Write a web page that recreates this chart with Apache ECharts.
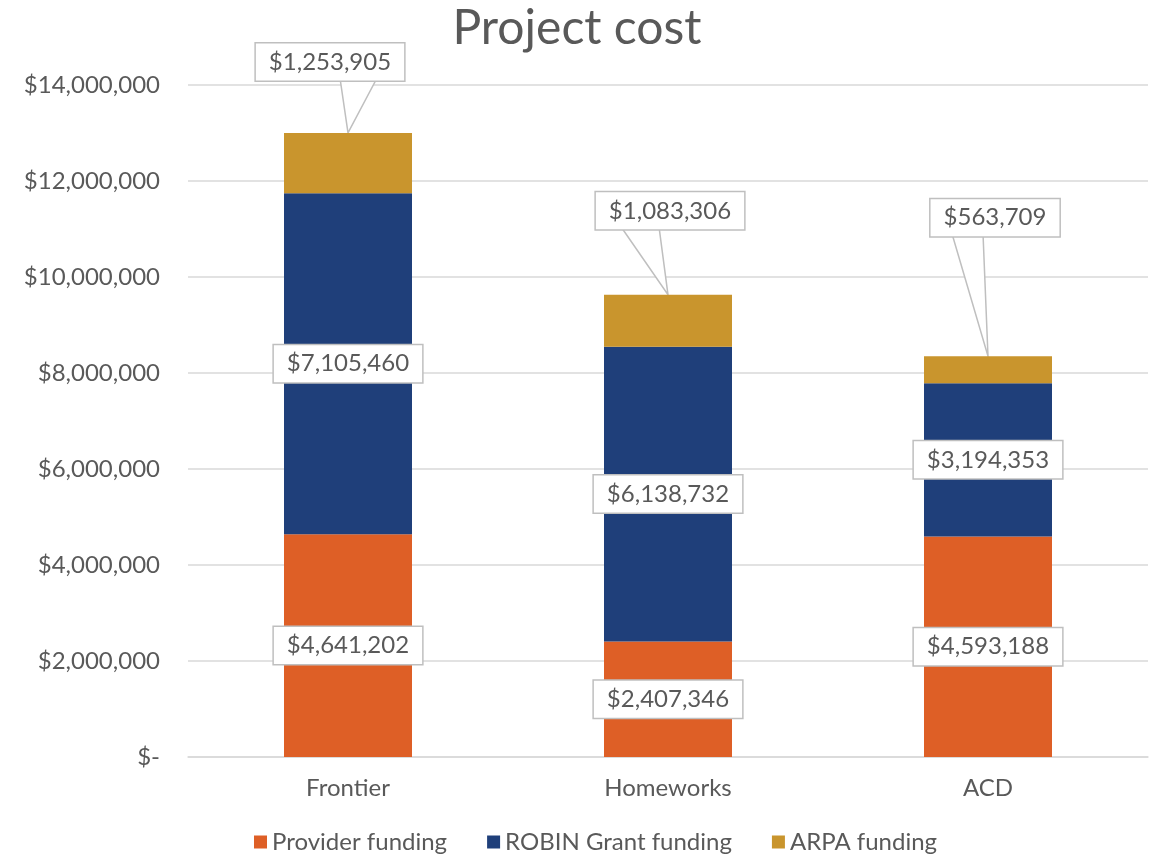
<!DOCTYPE html>
<html>
<head>
<meta charset="utf-8">
<script src="https://cdn.jsdelivr.net/npm/echarts@6/dist/echarts.min.js"></script>
<style>
html, body { margin: 0; padding: 0; background: #fff; }
#main { width: 1154px; height: 857px; }
</style>
</head>
<body>
<div id="main"></div>
<script>
var categories = ['Frontier', 'Homeworks', 'ACD'];
var providerFunding = [4641202, 2407346, 4593188];
var robinFunding = [7105460, 6138732, 3194353];
var arpaFunding = [1253905, 1083306, 563709];
// where the ARPA callouts sit, relative to the segment centre
var arpaLabelShift = [[-18, -101], [2, -110], [7, -152]];
// where the callout wedge leaves the box, relative to the bar centre
var wedgeBase = [[-8, 29], [-47, -9], [-36, -5]];

var myChart = echarts.init(document.getElementById('main'));

function money(v) {
    return '$' + Number(v).toLocaleString('en-US');
}

var boxLabel = {
    show: true,
    position: 'inside',
    formatter: function (p) { return money(p.value); },
    color: '#595959',
    fontFamily: 'Lato',
    fontSize: 24,
    lineHeight: 26,
    backgroundColor: '#fff',
    borderColor: '#bfbfbf',
    borderWidth: 1.5,
    padding: [6, 13, 5, 13]
};

myChart.setOption({
    animation: false,
    textStyle: { fontFamily: 'Lato' },
    title: {
        text: 'Project cost',
        left: 'center',
        top: 0,
        textStyle: { fontFamily: 'Lato', fontSize: 48, fontWeight: 'normal', color: '#595959' }
    },
    legend: {
        bottom: -2,
        left: 249,
        itemWidth: 13,
        itemHeight: 13,
        itemGap: 40,
        icon: 'rect',
        textStyle: { fontFamily: 'Lato', fontSize: 24, color: '#595959' },
        data: ['Provider funding', 'ROBIN Grant funding', 'ARPA funding']
    },
    grid: { left: 188, right: 6, top: 85, bottom: 100 },
    xAxis: {
        type: 'category',
        data: categories,
        axisTick: { show: false },
        axisLine: { lineStyle: { color: '#d9d9d9', width: 1.5 } },
        axisLabel: { color: '#595959', fontSize: 24, margin: 19 }
    },
    yAxis: {
        type: 'value',
        min: 0,
        max: 14000000,
        interval: 2000000,
        axisLine: { show: false },
        axisTick: { show: false },
        splitLine: { lineStyle: { color: '#d9d9d9', width: 1.5 } },
        axisLabel: {
            color: '#595959',
            fontSize: 24,
            margin: 28,
            formatter: function (v) { return v === 0 ? '$-' : money(v); }
        }
    },
    series: [
        {
            name: 'Provider funding',
            type: 'bar',
            stack: 'cost',
            barWidth: '40%',
            data: providerFunding,
            itemStyle: { color: '#de5f26' },
            label: boxLabel
        },
        {
            name: 'ROBIN Grant funding',
            type: 'bar',
            stack: 'cost',
            data: robinFunding,
            itemStyle: { color: '#1f3f7a' },
            label: boxLabel
        },
        {
            name: 'ARPA funding',
            type: 'bar',
            stack: 'cost',
            data: arpaFunding,
            itemStyle: { color: '#c9952d' },
            label: boxLabel,
            labelLayout: function (p) {
                var s = arpaLabelShift[p.dataIndex];
                return { dx: s[0], dy: s[1] };
            }
        }
    ]
});

// callout wedges from the ARPA label boxes down to the top of each bar
var wedges = categories.map(function (c, i) {
    var total = providerFunding[i] + robinFunding[i] + arpaFunding[i];
    var mid = total - arpaFunding[i] / 2;
    var tip = myChart.convertToPixel({ gridIndex: 0 }, [c, total]);
    var centre = myChart.convertToPixel({ gridIndex: 0 }, [c, mid]);
    var boxBottom = centre[1] + arpaLabelShift[i][1] + 16;
    return {
        type: 'polygon',
        z: 1,
        shape: {
            points: [
                [tip[0] + wedgeBase[i][0], boxBottom],
                [tip[0], tip[1]],
                [tip[0] + wedgeBase[i][1], boxBottom]
            ]
        },
        style: { fill: '#fff', stroke: '#bfbfbf', lineWidth: 1.5 }
    };
});
myChart.setOption({ graphic: wedges });
</script>
</body>
</html>
